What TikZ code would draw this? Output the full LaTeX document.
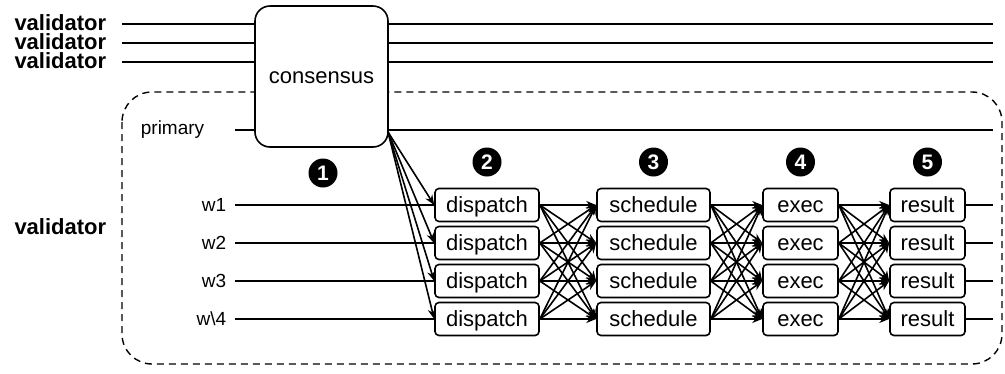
\documentclass[tikz,border=0pt]{standalone}
\usepackage{fontspec}
\setmainfont{Liberation Sans}
\usetikzlibrary{arrows.meta}

\begin{document}
\begin{tikzpicture}[x=1pt,y=-1pt,line width=1.6pt,
  box/.style={draw,rounded corners=4pt,fill=white,inner sep=0pt,minimum height=33pt,text height=15pt,text depth=1pt,font=\fontsize{22}{24}\selectfont},
  lbl/.style={anchor=east,inner xsep=8pt,font=\fontsize{19}{20}\selectfont},
  vlbl/.style={anchor=east,inner xsep=15pt,inner ysep=0pt,text height=13pt,text depth=0pt,font=\fontsize{22}{24}\selectfont\bfseries},
  num/.style={circle,fill=black,text=white,inner sep=0pt,minimum size=29pt,font=\fontsize{21}{22}\selectfont\bfseries},
  arr/.style={-{Stealth[length=10pt,width=8pt]}}]
\useasboundingbox (0,0) rectangle (1005,373);
% Container
\draw[dash pattern=on 7pt off 5pt,line width=1.4pt,rounded corners=30pt] (122,92) rectangle (1002,364);
% Consensus
\node[box,rounded corners=15pt,minimum width=133pt,minimum height=141pt] (cons) at (321.5,76.5) {consensus};
% Validators
\node[vlbl] (v1) at (122,24) {validator};
\node[vlbl] (v2) at (122,43) {validator};
\node[vlbl] (v3) at (122,62) {validator};
\node[vlbl] (vw) at (122,228) {validator};
\node[lbl,inner xsep=30pt] (prim) at (235,130) {primary};
\foreach \k/\y in {1/24,2/43,3/62} {
  \coordinate (e\k) at (993,\y);
  \draw (v\k.east) -- (v\k.east -| cons.west);
  \draw (v\k.east -| cons.east) -- (e\k);
}
\coordinate (ep) at (993,130);
\draw (prim.east) -- (prim.east -| cons.west);
\draw (prim.east -| cons.east) -- (ep);
% Workers
\foreach \i/\y/\lab in {1/205/w1,2/243/w2,3/281/w3,4/319/w\textbackslash 4} {
  \node[lbl] (w\i) at (235,\y) {\lab};
  \node[box,minimum width=104pt] (d\i) at (487,\y) {dispatch};
  \node[box,minimum width=113pt] (s\i) at (653.5,\y) {schedule};
  \node[box,minimum width=75pt] (x\i) at (800.5,\y) {exec};
  \node[box,minimum width=75pt] (r\i) at (927.5,\y) {result};
  \coordinate (o\i) at (993,\y);
  \draw (w\i) -- (d\i);
  \draw (r\i) -- (o\i);
}
% Fan out
\coordinate (fan) at (388,132);
\foreach \i in {1,...,4}
  \draw[arr] (fan) -- (d\i.west);
\foreach \i in {1,...,4}
  \foreach \j in {1,...,4} {
    \draw[arr] (d\i.east) -- (s\j.west);
    \draw[arr] (s\i.east) -- (x\j.west);
    \draw[arr] (x\i.east) -- (r\j.west);
  }
% Steps
\node[num] (n1) at (323,173) {1};
\node[num] (n2) at (487,162) {2};
\node[num] (n3) at (653.5,162) {3};
\node[num] (n4) at (800.5,162) {4};
\node[num] (n5) at (927.5,162) {5};
\end{tikzpicture}
\end{document}
